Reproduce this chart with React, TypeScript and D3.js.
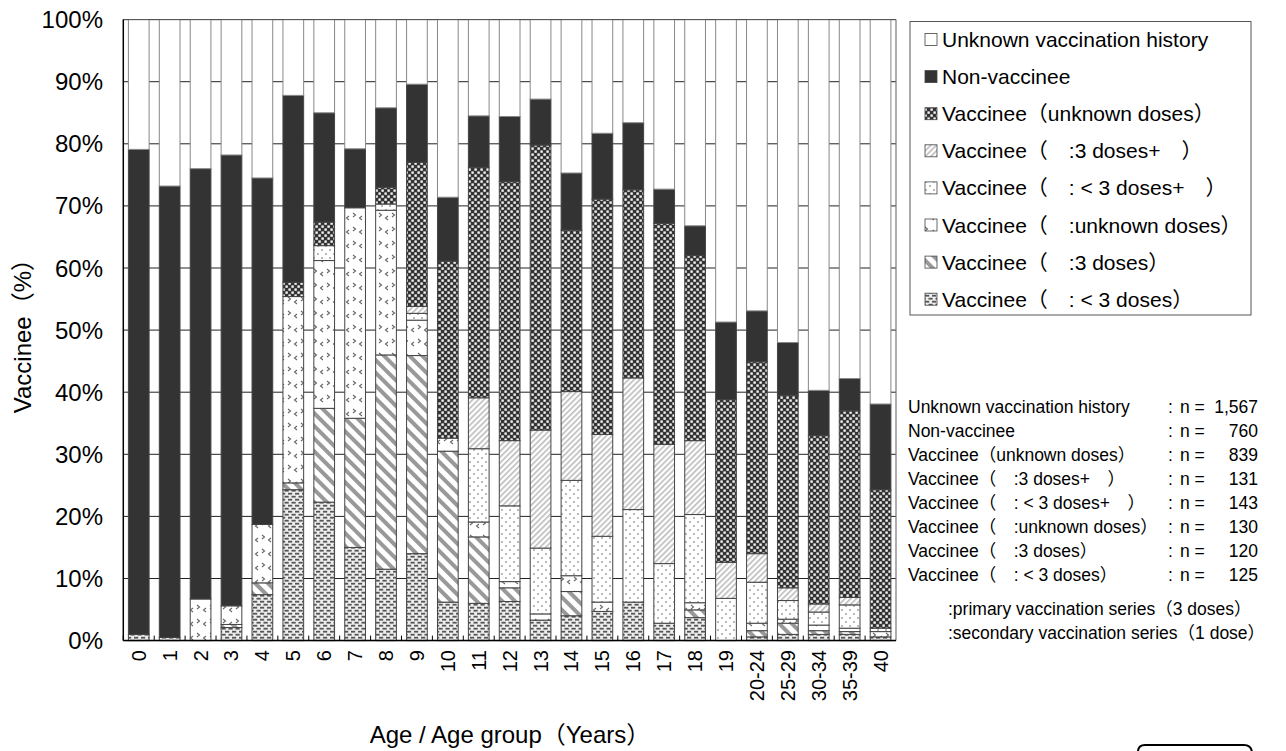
import React from "react";
import * as d3 from "d3";

const categories = ["0","1","2","3","4","5","6","7","8","9","10","11","12","13","14","15","16","17","18","19","20-24","25-29","30-34","35-39","40"];

// segment heights (%) per category, bottom to top
const lt3Doses = [1.0,0.5,0,2.1,7.4,24.3,22.3,15.0,11.5,14.0,6.2,6.0,6.3,3.3,4.0,4.7,6.2,2.8,3.7,0,0.6,1.0,1.0,1.0,0.6];
const threeDoses = [0,0,0,0.5,1.9,1.1,15.1,20.8,34.5,31.9,24.3,10.7,2.2,0,3.9,0,0,0,1.25,0,1.0,1.8,0.6,0.45,0];
const unknownDosesSecondary = [0,0,6.7,3.0,9.4,30.0,23.8,33.9,23.3,5.7,2.1,2.4,1.0,1.0,2.55,1.5,0,0,1.15,0,1.2,0.65,0.9,0.55,0.85];
const lt3DosesPlus = [0,0,0,0,0,0,2.4,0,1.0,1.1,0,11.8,12.2,10.6,15.35,10.6,14.9,9.6,14.2,6.8,6.6,3.0,2.1,3.75,0.55];
const threeDosesPlus = [0,0,0,0,0,0,0,0,0,1.1,0,8.2,10.5,19.0,14.3,16.4,21.2,19.2,11.9,5.8,4.6,2.05,1.3,1.2,0];
const vaccineeUnknownDoses = [0,0,0,0,0,2.3,3.8,0,2.7,23.2,28.5,37.1,41.7,45.9,26.0,37.9,30.3,35.6,29.8,26.2,30.9,31.0,27.1,30.05,22.3];
const nonVaccinee = [78.1,72.7,69.3,72.6,55.8,30.1,17.6,9.5,12.8,12.6,10.3,8.3,10.5,7.4,9.2,10.6,10.8,5.5,4.8,12.5,8.2,8.5,7.3,5.2,13.8];
const unknownHistory = [20.9,26.8,24.0,21.8,25.5,12.2,15.0,20.8,14.2,10.4,28.6,15.5,15.6,12.8,24.7,18.3,16.6,27.3,33.2,48.7,46.9,52.0,59.7,57.8,61.9];

const yTicks = [0,10,20,30,40,50,60,70,80,90,100];

const seriesKeys = ["lt3","d3","unkSec","lt3p","d3p","vunk","non","unkHist"];
const seriesValues = [lt3Doses, threeDoses, unknownDosesSecondary, lt3DosesPlus, threeDosesPlus, vaccineeUnknownDoses, nonVaccinee, unknownHistory];

// legend order (top to bottom) -> series key
const legendKeys = ["unkHist","non","vunk","d3p","lt3p","unkSec","d3","lt3"];
const legendLabels = [
  "Unknown vaccination history",
  "Non-vaccinee",
  "Vaccinee（unknown doses）",
  "Vaccinee（　:3 doses+　）",
  "Vaccinee（　: < 3 doses+　）",
  "Vaccinee（　:unknown doses）",
  "Vaccinee（　:3 doses）",
  "Vaccinee（　: < 3 doses）",
];
const nValues = ["1,567","760","839","131","143","130","120","125"];
const notes = [":primary vaccination series（3 doses）", ":secondary vaccination series（1 dose）"];

const FONT = "'Liberation Sans', Arial, 'Noto Sans CJK JP', sans-serif";

const fills: Record<string, string> = {
  lt3: "url(#pLt3)",
  d3: "url(#pD3)",
  unkSec: "url(#pUnk)",
  lt3p: "url(#pDots)",
  d3p: "url(#pFine)",
  vunk: "url(#pChk)",
  non: "#333333",
  unkHist: "#ffffff",
};

export default function App() {
  const W = 1286, H = 751;
  const x0 = 123.3, x1 = 896, yTop = 19.6, yBot = 640.6;

  const x = d3.scaleBand<string>().domain(categories).range([x0, x1]).paddingInner(0.33).paddingOuter(0.165);
  const y = d3.scaleLinear().domain([0, 100]).range([yBot, yTop]);

  const rows = categories.map((c, i) => {
    const r: any = { cat: c };
    seriesKeys.forEach((k, j) => (r[k] = seriesValues[j][i]));
    return r;
  });
  const stacked = d3.stack<any>().keys(seriesKeys)(rows);
  const step = x.step();

  return (
    <svg width={W} height={H} style={{ display: "block", position: "absolute", left: 0, top: 0 }} fontFamily={FONT}>
      <defs>
        <pattern id="pLt3" width="7" height="6" patternUnits="userSpaceOnUse">
          <rect width="7" height="6" fill="#eeeeee" />
          <rect x="1" y="0.8" width="4.2" height="1.8" fill="#555" />
          <rect x="-2.5" y="3.8" width="4.2" height="1.8" fill="#555" />
          <rect x="4.5" y="3.8" width="4.2" height="1.8" fill="#555" />
        </pattern>
        <pattern id="pD3" width="9" height="9" patternUnits="userSpaceOnUse" patternTransform="rotate(-45)">
          <rect width="9" height="9" fill="#fff" />
          <rect x="0" y="0" width="4" height="9" fill="#999" />
        </pattern>
        <pattern id="pFine" width="4" height="4" patternUnits="userSpaceOnUse" patternTransform="rotate(45)">
          <rect width="4" height="4" fill="#fff" />
          <rect x="0" y="0" width="1.6" height="4" fill="#bbb" />
        </pattern>
        <pattern id="pDots" width="8" height="8" patternUnits="userSpaceOnUse">
          <rect width="8" height="8" fill="#fff" />
          <circle cx="2" cy="2" r="0.9" fill="#999" />
          <circle cx="6" cy="6" r="0.9" fill="#999" />
        </pattern>
        <pattern id="pUnk" width="13" height="14" patternUnits="userSpaceOnUse">
          <rect width="13" height="14" fill="#fff" />
          <polyline points="2,3 4.5,5 2,7" fill="none" stroke="#666" strokeWidth="1.1" />
          <polyline points="11,6 8.5,8 11,10" fill="none" stroke="#666" strokeWidth="1.1" />
        </pattern>
        <pattern id="pChk" width="6" height="6" patternUnits="userSpaceOnUse">
          <rect width="6" height="6" fill="#333" />
          <rect x="0.4" y="0.4" width="2.4" height="2.4" fill="#f4f4f4" />
          <rect x="3.4" y="3.4" width="2.4" height="2.4" fill="#f4f4f4" />
        </pattern>
      </defs>

      {/* gridlines */}
      {yTicks.map((t) => (
        <line key={"g" + t} x1={x0} x2={x1} y1={y(t)} y2={y(t)} stroke="#222" strokeWidth={1} />
      ))}

      {/* bars */}
      {stacked.map((s) => (
        <g key={s.key}>
          {s.map((d, i) => {
            const h = y(d[0]) - y(d[1]);
            if (h <= 0.01) return null;
            return (
              <rect
                key={i}
                x={x(categories[i])}
                y={y(d[1])}
                width={x.bandwidth()}
                height={h}
                fill={fills[s.key]}
                stroke={s.key === "unkHist" ? "#888" : "#444"}
                strokeWidth={1}
              />
            );
          })}
        </g>
      ))}

      {/* frame */}
      <line x1={x0} x2={x1} y1={yTop} y2={yTop} stroke="#555" strokeWidth={1} />
      <line x1={x1} x2={x1} y1={yTop} y2={yBot} stroke="#777" strokeWidth={1.2} />
      <line x1={x0} x2={x0} y1={yTop} y2={yBot} stroke="#000" strokeWidth={1.5} />
      <line x1={x0} x2={x1} y1={yBot} y2={yBot} stroke="#000" strokeWidth={1.5} />
      {categories.map((c, i) => (
        <line key={"xt" + i} x1={x0 + step * i} x2={x0 + step * i} y1={yBot} y2={yBot - 5} stroke="#000" strokeWidth={1} />
      ))}

      {/* y tick labels */}
      {yTicks.map((t) => (
        <text key={"yl" + t} x={103} y={y(t)} textAnchor="end" dominantBaseline="central" fontSize={24} fill="#000">
          {t + "%"}
        </text>
      ))}
      <text transform={`translate(22,${(yTop + yBot) / 2}) rotate(-90)`} textAnchor="middle" dominantBaseline="central" fontSize={24} fill="#000">
        Vaccinee（%）
      </text>

      {/* x tick labels */}
      {categories.map((c) => {
        const cx = (x(c) as number) + x.bandwidth() / 2;
        return (
          <text key={"xl" + c} transform={`translate(${cx},${650}) rotate(-90)`} textAnchor="end" dominantBaseline="central" fontSize={20} fill="#000">
            {c}
          </text>
        );
      })}
      <text x={510} y={743} textAnchor="middle" fontSize={24} fill="#000">
        Age / Age group（Years）
      </text>

      {/* legend */}
      <rect x={910} y={21.5} width={341} height={293.5} fill="#fff" stroke="#555" strokeWidth={1} />
      {legendKeys.map((k, i) => {
        const cy = 39.5 + 37.1 * i;
        return (
          <g key={"lg" + k}>
            <rect x={925} y={cy - 6} width={12} height={12} fill={fills[k]} stroke="#444" strokeWidth={0.8} />
            <text x={942} y={cy} dominantBaseline="central" fontSize={21} fill="#000" style={{ whiteSpace: "pre" }}>
              {legendLabels[i]}
            </text>
          </g>
        );
      })}

      {/* n annotation */}
      {legendLabels.map((l, i) => {
        const cy = 407 + 24 * i;
        return (
          <g key={"n" + i} fontSize={17.5} fill="#000">
            <text x={908} y={cy} dominantBaseline="central" style={{ whiteSpace: "pre" }}>{l}</text>
            <text x={1168} y={cy} dominantBaseline="central">:</text>
            <text x={1180} y={cy} dominantBaseline="central">n =</text>
            <text x={1258} y={cy} dominantBaseline="central" textAnchor="end">{nValues[i]}</text>
          </g>
        );
      })}
      {notes.map((t, i) => (
        <text key={"nt" + i} x={948} y={609 + 24 * i} dominantBaseline="central" fontSize={17.5} fill="#000">
          {t}
        </text>
      ))}

      {/* partial box at bottom right */}
      <path d="M1138,752 Q1138,745 1145,745 L1244,745 Q1251,745 1252,752" fill="none" stroke="#000" strokeWidth={2} />
    </svg>
  );
}
